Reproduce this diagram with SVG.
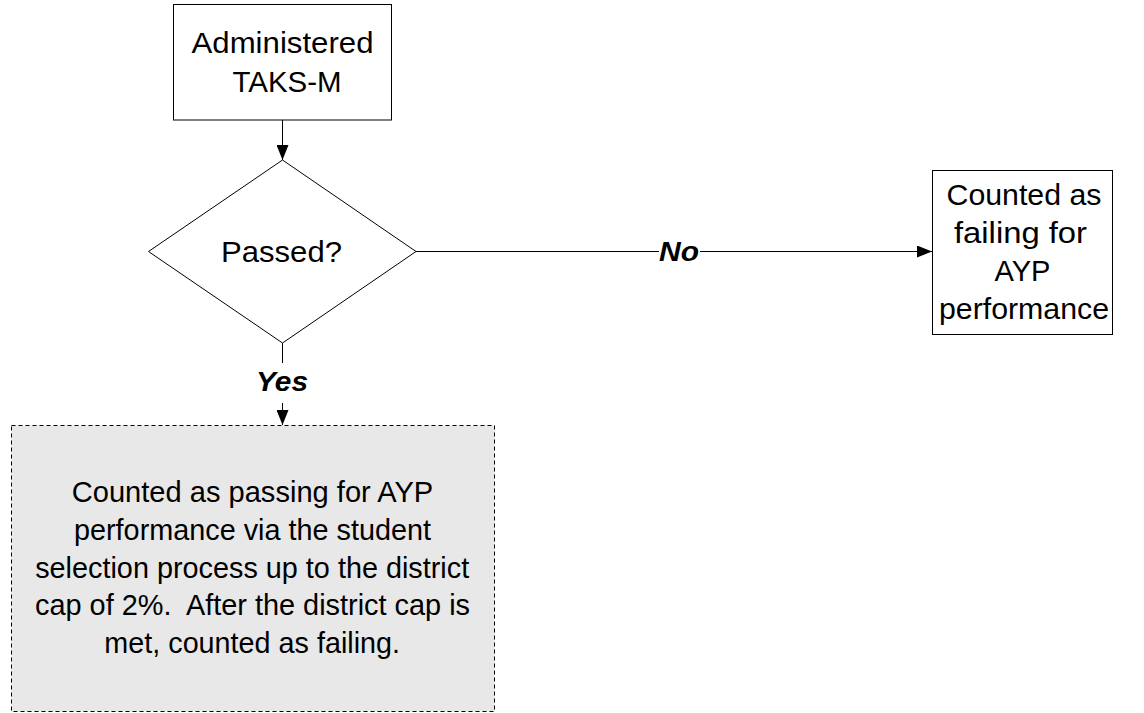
<svg xmlns="http://www.w3.org/2000/svg" width="1144" height="713" viewBox="0 0 1144 713">
<style>
.box{fill:#ffffff;stroke:#000000;stroke-width:1}
.dash{fill:#e8e8e8;stroke:#000000;stroke-width:1;stroke-dasharray:4 3}
.t{font-family:"Liberation Sans",Arial,sans-serif;font-size:30px;fill:#000000;text-anchor:middle}
.lbl{font-family:"Liberation Sans",Arial,sans-serif;font-size:27px;font-weight:bold;font-style:italic;fill:#000000;text-anchor:middle}
.ln{stroke:#000000;stroke-width:1;fill:none}
</style>
<defs>
<marker id="ah" markerWidth="16" markerHeight="12" refX="15" refY="6" orient="auto" markerUnits="userSpaceOnUse">
<path d="M0,0 L15,6 L0,12 Z" fill="#000000"/>
</marker>
</defs>
<rect width="1144" height="713" fill="#ffffff"/>
<g id="connectors">
<line class="ln" x1="282.5" y1="120" x2="282.5" y2="160" marker-end="url(#ah)"/>
<line class="ln" x1="416" y1="251.5" x2="659" y2="251.5"/>
<line class="ln" x1="700" y1="251.5" x2="932" y2="251.5" marker-end="url(#ah)"/>
<line class="ln" x1="282.5" y1="343" x2="282.5" y2="363"/>
<line class="ln" x1="282.5" y1="403" x2="282.5" y2="425" marker-end="url(#ah)"/>
<text class="lbl" x="679" y="261" textLength="40" lengthAdjust="spacingAndGlyphs">No</text>
<text class="lbl" x="282" y="391" textLength="52" lengthAdjust="spacingAndGlyphs">Yes</text>
</g>
<g id="administered">
<rect class="box" x="173.5" y="4.5" width="218" height="115.5"/>
<text class="t" x="282.5" y="53" textLength="182" lengthAdjust="spacingAndGlyphs">Administered</text>
<text class="t" x="287" y="91.5" textLength="109" lengthAdjust="spacingAndGlyphs">TAKS-M</text>
</g>
<g id="passed">
<polygon class="box" points="282.5,160 416,251.5 282.5,343 148.5,251.5"/>
<text class="t" x="281.5" y="262" textLength="121" lengthAdjust="spacingAndGlyphs">Passed?</text>
</g>
<g id="failing">
<rect class="box" x="932.5" y="170.5" width="180" height="164"/>
<text class="t" x="1024" y="205" textLength="155" lengthAdjust="spacingAndGlyphs">Counted as</text>
<text class="t" x="1020.5" y="243" textLength="133" lengthAdjust="spacingAndGlyphs">failing for</text>
<text class="t" x="1022.5" y="281" textLength="56" lengthAdjust="spacingAndGlyphs">AYP</text>
<text class="t" x="1024" y="318.5" textLength="170" lengthAdjust="spacingAndGlyphs">performance</text>
</g>
<g id="passing">
<rect class="dash" x="11.5" y="425.5" width="483" height="286"/>
<text class="t" x="252.5" y="501.5" textLength="361.5" lengthAdjust="spacingAndGlyphs">Counted as passing for AYP</text>
<text class="t" x="252.5" y="539.5" textLength="357" lengthAdjust="spacingAndGlyphs">performance via the student</text>
<text class="t" x="252.2" y="577.5" textLength="434" lengthAdjust="spacingAndGlyphs">selection process up to the district</text>
<text class="t" x="252.5" y="615" xml:space="preserve" textLength="435" lengthAdjust="spacingAndGlyphs">cap of 2%.  After the district cap is</text>
<text class="t" x="252.2" y="653" textLength="295.7" lengthAdjust="spacingAndGlyphs">met, counted as failing.</text>
</g>
</svg>
